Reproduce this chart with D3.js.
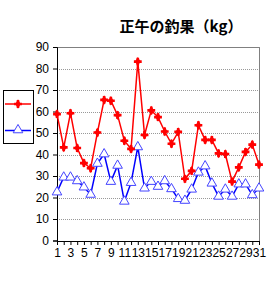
<!DOCTYPE html>
<meta charset="utf-8">
<style>
body { margin: 0; background: #fff; }
text { font-family: "Liberation Sans", Arial, sans-serif; }
.grid line { stroke: #999; stroke-dasharray: 1,1; }
</style>
<body>
<script src="https://cdn.jsdelivr.net/npm/d3@7"></script>
<script>

// days of the month
var days = d3.range(1, 32);
// series values
var redValues = [58.8, 43.3, 59.2, 43, 36, 33.6, 50.2, 65.4, 65, 58.3, 46.4, 42.6, 83.2, 49.1, 60.5,
                 57.4, 50.7, 45, 50.5, 28.7, 32.4, 53.6, 46.8, 46.8, 40.5, 40.2, 27.4, 34, 41.2, 44.6, 35.3];
var blueValues = [22.5, 29.4, 29.4, 27.7, 24.8, 21.4, 35.8, 40.2, 27.4, 34.9, 18.2, 26.9, 43.5, 24.3, 27.4,
                  25.1, 27.7, 24, 19.4, 18.6, 23.8, 31.7, 34.6, 26.6, 20.5, 23.8, 20.5, 26.2, 26.2, 21.2, 24.3];
var yTicks = [0, 10, 20, 30, 40, 50, 60, 70, 80, 90];
var xLabels = days.filter(function(d) { return d % 2 === 1; });

var margin = {top: 47, right: 15, bottom: 40, left: 57},
    width = 275 - margin.left - margin.right,
    height = 281 - margin.top - margin.bottom;

var x = d3.scaleLinear().domain([1, 31]).range([0, width - 1]);
var y = d3.scaleLinear().domain([0, 90]).range([height - 0.5, 0]);

var svg = d3.select("body").append("svg")
    .attr("width", 275)
    .attr("height", 281);

// title
svg.append("text")
    .attr("x", 181)
    .attr("y", 32)
    .attr("text-anchor", "middle")
    .style("font-family", "'Noto Sans CJK JP', sans-serif")
    .style("font-size", "15px")
    .style("font-weight", "bold")
    .text("正午の釣果（kg）");

var g = svg.append("g")
    .attr("transform", "translate(" + margin.left + "," + margin.top + ")");

// gridlines
g.append("g")
    .attr("class", "grid")
    .selectAll("line")
    .data(yTicks.slice(1))
    .enter().append("line")
    .attr("x1", 0)
    .attr("x2", width)
    .attr("y1", function(d) { return Math.round(y(d)) + 0.5; })
    .attr("y2", function(d) { return Math.round(y(d)) + 0.5; });

// plot border top/right
g.append("path")
    .attr("d", "M0,0.5H" + (width - 0.5) + "V" + height)
    .attr("fill", "none")
    .attr("stroke", "#808080");

// Y axis
var yAxis = g.append("g")
    .call(d3.axisLeft(y).tickValues(yTicks).tickSize(4).tickPadding(4));
yAxis.select(".domain").attr("stroke", "#000");
yAxis.selectAll("text").style("font-size", "12px").attr("fill", "#000");

// X axis
var xAxis = g.append("g")
    .attr("transform", "translate(0," + height + ")")
    .call(d3.axisBottom(x).tickValues(days).tickSize(4).tickPadding(3)
      .tickFormat(function(d) { return d % 2 === 1 ? d : ""; }));
xAxis.select(".domain").attr("stroke", "#000");
xAxis.selectAll("text").style("font-size", "12px").attr("fill", "#000");

var redLine = d3.line()
    .x(function(d, i) { return x(days[i]); })
    .y(function(d) { return y(d); });

// blue series
g.append("path")
    .datum(blueValues)
    .attr("fill", "none")
    .attr("stroke", "#0000ff")
    .attr("stroke-width", 1.5)
    .attr("d", redLine);

g.selectAll(".tri")
    .data(blueValues)
    .enter().append("path")
    .attr("class", "tri")
    .attr("transform", function(d, i) { return "translate(" + x(days[i]) + "," + y(d) + ")"; })
    .attr("d", d3.symbol().type(d3.symbolTriangle).size(40))
    .attr("fill", "#fff")
    .attr("stroke", "#4444ff")
    .attr("stroke-width", 1);

// red series
g.append("path")
    .datum(redValues)
    .attr("fill", "none")
    .attr("stroke", "#ff0000")
    .attr("stroke-width", 1.5)
    .attr("d", redLine);

g.selectAll(".dia")
    .data(redValues)
    .enter().append("path")
    .attr("class", "dia")
    .attr("transform", function(d, i) { return "translate(" + x(days[i]) + "," + y(d) + ")"; })
    .attr("d", d3.symbol().type(d3.symbolCross).size(34))
    .attr("fill", "#ff0000");
g.selectAll(".dia2")
    .data(redValues)
    .enter().append("path")
    .attr("class", "dia2")
    .attr("transform", function(d, i) { return "translate(" + x(days[i]) + "," + y(d) + ")"; })
    .attr("d", d3.symbol().type(d3.symbolDiamond).size(26))
    .attr("fill", "#ff0000");

// legend
var legend = svg.append("g");
legend.append("rect")
    .attr("x", 3.5).attr("y", 90.5)
    .attr("width", 30).attr("height", 53)
    .attr("fill", "#fff")
    .attr("stroke", "#000");
legend.append("line")
    .attr("x1", 5).attr("x2", 31).attr("y1", 104).attr("y2", 104)
    .attr("stroke", "#ff0000").attr("stroke-width", 1.5);
legend.append("path")
    .attr("transform", "translate(18,104)")
    .attr("d", d3.symbol().type(d3.symbolCross).size(34))
    .attr("fill", "#ff0000");
legend.append("path")
    .attr("transform", "translate(18,104)")
    .attr("d", d3.symbol().type(d3.symbolDiamond).size(26))
    .attr("fill", "#ff0000");
legend.append("line")
    .attr("x1", 5).attr("x2", 31).attr("y1", 130.5).attr("y2", 130.5)
    .attr("stroke", "#0000ff").attr("stroke-width", 1.5);
legend.append("path")
    .attr("transform", "translate(18,130)")
    .attr("d", d3.symbol().type(d3.symbolTriangle).size(40))
    .attr("fill", "#fff")
    .attr("stroke", "#4444ff");

</script>
</body>
